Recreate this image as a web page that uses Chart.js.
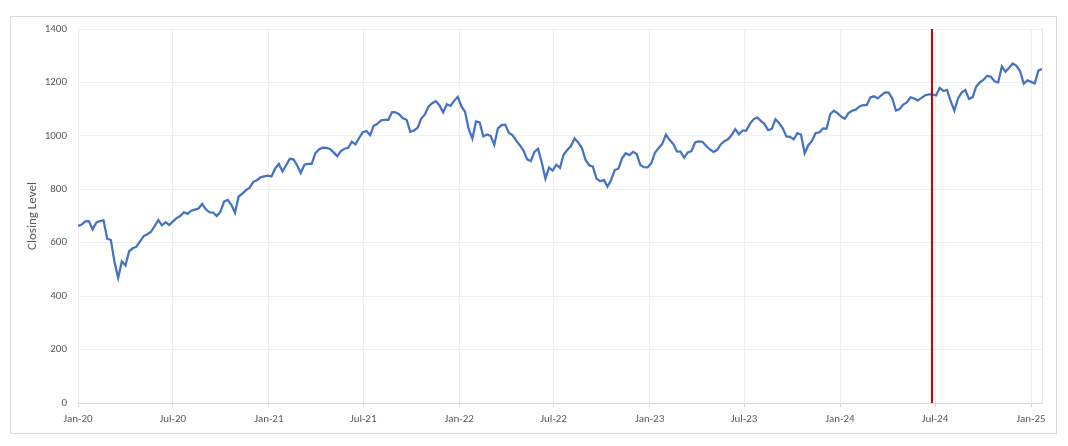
<!DOCTYPE html>
<html>
<head>
<meta charset="utf-8">
<script src="https://cdn.jsdelivr.net/npm/chart.js@4.4.1/dist/chart.umd.min.js"></script>
<style>
  body { margin: 0; background: #fff; }
  #box { position: absolute; left: 10px; top: 16px; width: 1045px; height: 416px; border: 1px solid #d9d9d9; }
</style>
</head>
<body>
<div id="box"><canvas id="chart" width="1045" height="416"></canvas></div>
<script>
// weekly closing levels, starting 2020-01-01
const startDate = '2020-01-01';
const stepDays = 7;
const closingLevels = [
  663, 668, 680, 681, 650, 675, 681, 684, 615, 610,
  528, 468, 530, 515, 568, 579, 585, 605, 625, 632,
  641, 662, 685, 665, 677, 666, 680, 692, 700, 714,
  708, 720, 724, 728, 745, 725, 714, 713, 700, 716,
  754, 760, 742, 712, 773, 784, 797, 806, 828, 834,
  845, 848, 851, 848, 878, 895, 867, 890, 914, 912,
  890, 861, 892, 895, 895, 935, 949, 956, 955, 951,
  938, 924, 943, 952, 955, 978, 968, 992, 1014, 1018,
  1003, 1038, 1045, 1058, 1060, 1060, 1089, 1088, 1080, 1066,
  1060, 1015, 1020, 1030, 1065, 1080, 1110, 1122, 1130, 1114,
  1088, 1118, 1112, 1131, 1146, 1110, 1090, 1025, 990, 1054,
  1050, 998, 1005, 1000, 967, 1028, 1040, 1042, 1012, 1002,
  982, 965, 945, 912, 906, 940, 952, 900, 840, 881,
  870, 892, 880, 930, 947, 962, 990, 975, 955, 910,
  890, 885, 840, 830, 835, 810, 835, 872, 877, 916,
  935, 928, 940, 932, 891, 883, 882, 898, 937, 954,
  970, 1005, 985, 970, 942, 941, 918, 938, 943, 975,
  979, 978, 963, 950, 940, 947, 968, 980, 987, 1003,
  1025, 1006, 1020, 1020, 1045, 1062, 1069, 1056, 1044, 1021,
  1026, 1062, 1048, 1028, 998, 996, 987, 1010, 1005, 935,
  965, 981, 1011, 1013, 1028, 1027, 1081, 1094, 1085, 1072,
  1064, 1085, 1094, 1098, 1110, 1115, 1115, 1144, 1148, 1140,
  1152, 1163, 1162, 1140, 1095, 1100, 1117, 1125, 1144, 1140,
  1133, 1142, 1152, 1155, 1155, 1151, 1180, 1168, 1172, 1130,
  1095, 1140, 1162, 1172, 1138, 1145, 1185, 1200, 1210, 1225,
  1221, 1204, 1200, 1260, 1240, 1255, 1271, 1262, 1242, 1195,
  1208, 1202, 1196, 1244, 1250
];

const tickDates = ['2020-01-01', '2020-07-01', '2021-01-01', '2021-07-01', '2022-01-01', '2022-07-01',
                   '2023-01-01', '2023-07-01', '2024-01-01', '2024-07-01', '2025-01-01'];
const tickLabels = ['Jan-20', 'Jul-20', 'Jan-21', 'Jul-21', 'Jan-22', 'Jul-22',
                    'Jan-23', 'Jul-23', 'Jan-24', 'Jul-24', 'Jan-25'];
const markerDate = '2024-06-25';
const yTicks = [0, 200, 400, 600, 800, 1000, 1200, 1400];

function dayOf(s) {
  return (Date.parse(s + 'T00:00:00Z') - Date.parse(startDate + 'T00:00:00Z')) / 86400000;
}

const tickDays = tickDates.map(dayOf);
const markerDay = dayOf(markerDate);
const points = closingLevels.map((v, i) => ({ x: i * stepDays, y: v }));
const lastDay = (closingLevels.length - 1) * stepDays;

const plotBorder = {
  id: 'plotBorder',
  beforeDatasetsDraw(chart) {
    const { ctx, chartArea } = chart;
    ctx.save();
    ctx.strokeStyle = '#e6e6e6';
    ctx.lineWidth = 1;
    ctx.beginPath();
    ctx.moveTo(Math.round(chartArea.right) + 0.5, chartArea.top);
    ctx.lineTo(Math.round(chartArea.right) + 0.5, chartArea.bottom);
    ctx.stroke();
    ctx.restore();
  }
};

const family = 'Calibri, Carlito, "Liberation Sans", sans-serif';
const font = { family: family, size: 11 };

new Chart(document.getElementById('chart').getContext('2d'), {
  type: 'line',
  data: {
    datasets: [
      {
        label: 'Marker',
        data: [{ x: markerDay, y: yTicks[0] }, { x: markerDay, y: yTicks[yTicks.length - 1] }],
        borderColor: '#c00000',
        borderWidth: 2,
        pointRadius: 0,
        order: 0
      },
      {
        label: 'Closing Level',
        data: points,
        borderColor: '#4472c4',
        borderWidth: 2.25,
        pointRadius: 0,
        tension: 0,
        order: 1
      }
    ]
  },
  options: {
    responsive: false,
    animation: false,
    devicePixelRatio: 1,
    layout: { padding: { left: 0, top: 12, right: 14, bottom: 0 } },
    plugins: { legend: { display: false }, tooltip: { enabled: false } },
    scales: {
      x: {
        type: 'linear',
        min: 0,
        max: lastDay,
        afterBuildTicks: (scale) => { scale.ticks = tickDays.map(v => ({ value: v })); },
        afterFit: (scale) => { scale.height = 30; scale.paddingLeft = 0; scale.paddingRight = 0; },
        ticks: {
          autoSkip: false,
          maxRotation: 0,
          padding: 6,
          color: '#595959',
          font: font,
          callback: (value) => tickLabels[tickDays.indexOf(value)]
        },
        grid: { color: '#efefef', tickLength: 4, tickColor: '#d9d9d9' },
        border: { color: '#d9d9d9' }
      },
      y: {
        min: 0,
        max: 1400,
        afterBuildTicks: (scale) => { scale.ticks = yTicks.map(v => ({ value: v })); },
        afterFit: (scale) => { scale.width = 67; scale.paddingTop = 0; scale.paddingBottom = 0; },
        ticks: { padding: 11, color: '#595959', font: font, callback: (value) => String(value) },
        grid: { color: '#efefef', drawTicks: false },
        border: { display: false },
        title: { display: true, text: 'Closing Level', color: '#595959', font: { family: family, size: 13 }, padding: { top: 14, bottom: 0 } }
      }
    }
  },
  plugins: [plotBorder]
});
</script>
</body>
</html>
